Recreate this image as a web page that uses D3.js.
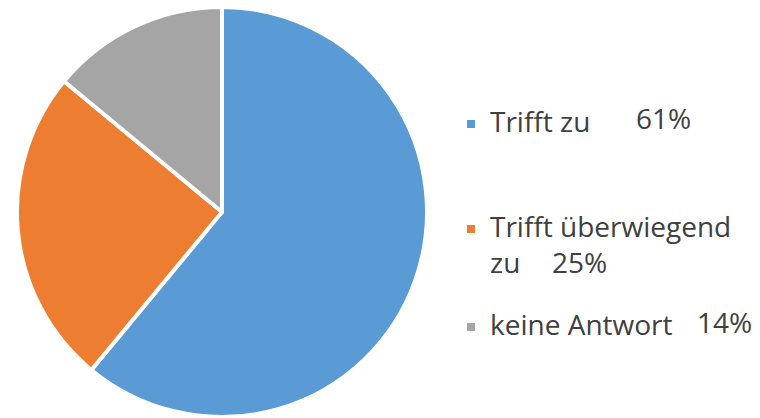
<!DOCTYPE html>
<html><head><meta charset="utf-8">
<script src="https://cdn.jsdelivr.net/npm/d3@7"></script>
<style>html,body{margin:0;padding:0;background:#fff;}svg{display:block;}</style>
</head><body>
<svg id="chart" width="760" height="418"></svg>
<script>
const categories = ["Trifft zu", "Trifft überwiegend zu", "keine Antwort"];
const values = [61, 25, 14];
const labelLines = [["Trifft zu"], ["Trifft überwiegend", "zu"], ["keine Antwort"]];
const percentLabels = ["61%", "25%", "14%"];
const colors = ["#5B9BD5", "#ED7D31", "#A5A5A5"];

const svg = d3.select("#chart");
const cx = 222, cy = 212, r = 205;
const pie = d3.pie().sort(null).value(d => d)(values);
const arc = d3.arc().innerRadius(0).outerRadius(r);
const color = d3.scaleOrdinal().domain(categories).range(colors);

svg.append("g").attr("transform", `translate(${cx},${cy})`)
  .selectAll("path").data(pie).join("path")
  .attr("d", arc)
  .attr("fill", (d, i) => color(categories[i]))
  .attr("stroke", "#fff").attr("stroke-width", 4).attr("stroke-linejoin", "round");

const font = "'Open Sans', sans-serif";
const fs = 28;
const legendY = [132, 237, 335];
const lineH = 36;
const pctX = [636, 552, 697];
const pctDy = [-3, 0, -2];
const lg = svg.append("g");
categories.forEach((c, i) => {
  const y = legendY[i];
  lg.append("rect").attr("x", 467).attr("y", y - 12).attr("width", 8).attr("height", 8).attr("fill", color(c));
  labelLines[i].forEach((ln, j) => {
    lg.append("text").attr("x", 490).attr("y", y + j * lineH)
      .attr("font-family", font).attr("font-size", fs).attr("fill", "#404040").text(ln);
  });
  lg.append("text").attr("x", pctX[i]).attr("y", y + (labelLines[i].length - 1) * lineH + pctDy[i])
    .attr("font-family", font).attr("font-size", fs).attr("fill", "#404040").text(percentLabels[i]);
});
</script>
</body></html>
